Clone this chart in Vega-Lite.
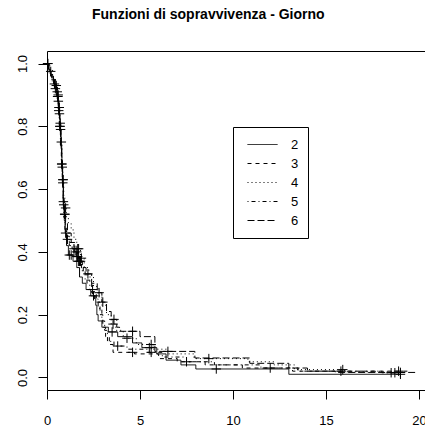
{
  "$schema": "https://vega.github.io/schema/vega-lite/v6.json",
  "autosize": {"type": "none"},
  "padding": {"left": 47, "top": 51, "right": 0, "bottom": 40},
  "width": 378,
  "height": 339,
  "background": "white",
  "title": {"text": "Funzioni di sopravvivenza - Giorno", "anchor": "start", "dx": 76, "offset": 18, "baseline": "alphabetic", "fontSize": 14, "fontWeight": "bold", "font": "Liberation Sans", "color": "black"},
  "datasets": {
    "curves": [
      {"g":"2","t":0,"s":1},{"g":"2","t":0.1,"s":0.98},{"g":"2","t":0.2,"s":0.96},{"g":"2","t":0.35,"s":0.935},{"g":"2","t":0.5,"s":0.91},{"g":"2","t":0.58,"s":0.88},{"g":"2","t":0.64,"s":0.84},{"g":"2","t":0.7,"s":0.79},{"g":"2","t":0.76,"s":0.73},{"g":"2","t":0.8,"s":0.67},{"g":"2","t":0.84,"s":0.61},{"g":"2","t":0.88,"s":0.55},{"g":"2","t":0.93,"s":0.5},{"g":"2","t":0.98,"s":0.46},{"g":"2","t":1.05,"s":0.42},{"g":"2","t":1.15,"s":0.39},{"g":"2","t":1.4,"s":0.37},{"g":"2","t":1.6,"s":0.35},{"g":"2","t":1.75,"s":0.32},{"g":"2","t":1.9,"s":0.3},{"g":"2","t":2.1,"s":0.28},{"g":"2","t":2.35,"s":0.26},{"g":"2","t":2.62,"s":0.23},{"g":"2","t":2.68,"s":0.2},{"g":"2","t":2.75,"s":0.18},{"g":"2","t":2.95,"s":0.16},{"g":"2","t":3.3,"s":0.145},{"g":"2","t":3.8,"s":0.13},{"g":"2","t":4.6,"s":0.11},{"g":"2","t":5.1,"s":0.095},{"g":"2","t":5.9,"s":0.075},{"g":"2","t":6.4,"s":0.055},{"g":"2","t":7.2,"s":0.04},{"g":"2","t":8.0,"s":0.027},{"g":"2","t":13.0,"s":0.01},{"g":"2","t":19.0,"s":0.01},
      {"g":"3","t":0,"s":1},{"g":"3","t":0.12,"s":0.975},{"g":"3","t":0.28,"s":0.95},{"g":"3","t":0.45,"s":0.925},{"g":"3","t":0.55,"s":0.895},{"g":"3","t":0.62,"s":0.86},{"g":"3","t":0.68,"s":0.81},{"g":"3","t":0.74,"s":0.75},{"g":"3","t":0.79,"s":0.69},{"g":"3","t":0.83,"s":0.63},{"g":"3","t":0.87,"s":0.57},{"g":"3","t":0.92,"s":0.52},{"g":"3","t":0.98,"s":0.48},{"g":"3","t":1.06,"s":0.45},{"g":"3","t":1.2,"s":0.43},{"g":"3","t":1.35,"s":0.41},{"g":"3","t":1.55,"s":0.385},{"g":"3","t":1.75,"s":0.36},{"g":"3","t":1.95,"s":0.33},{"g":"3","t":2.15,"s":0.3},{"g":"3","t":2.4,"s":0.27},{"g":"3","t":2.65,"s":0.24},{"g":"3","t":2.85,"s":0.2},{"g":"3","t":3.0,"s":0.16},{"g":"3","t":3.15,"s":0.13},{"g":"3","t":3.35,"s":0.105},{"g":"3","t":3.55,"s":0.08},{"g":"3","t":4.7,"s":0.075},{"g":"3","t":6.0,"s":0.06},{"g":"3","t":7.0,"s":0.05},{"g":"3","t":8.5,"s":0.04},{"g":"3","t":10.5,"s":0.03},{"g":"3","t":13.2,"s":0.02},{"g":"3","t":19.5,"s":0.02},
      {"g":"4","t":0,"s":1},{"g":"4","t":0.15,"s":0.98},{"g":"4","t":0.3,"s":0.955},{"g":"4","t":0.45,"s":0.93},{"g":"4","t":0.56,"s":0.9},{"g":"4","t":0.63,"s":0.86},{"g":"4","t":0.69,"s":0.81},{"g":"4","t":0.75,"s":0.75},{"g":"4","t":0.8,"s":0.69},{"g":"4","t":0.85,"s":0.63},{"g":"4","t":0.9,"s":0.58},{"g":"4","t":0.96,"s":0.54},{"g":"4","t":1.04,"s":0.51},{"g":"4","t":1.15,"s":0.49},{"g":"4","t":1.3,"s":0.47},{"g":"4","t":1.45,"s":0.44},{"g":"4","t":1.6,"s":0.41},{"g":"4","t":1.8,"s":0.38},{"g":"4","t":2.0,"s":0.35},{"g":"4","t":2.25,"s":0.32},{"g":"4","t":2.5,"s":0.29},{"g":"4","t":2.75,"s":0.26},{"g":"4","t":2.95,"s":0.23},{"g":"4","t":3.2,"s":0.2},{"g":"4","t":3.45,"s":0.17},{"g":"4","t":3.7,"s":0.15},{"g":"4","t":4.1,"s":0.125},{"g":"4","t":4.8,"s":0.105},{"g":"4","t":5.7,"s":0.09},{"g":"4","t":6.5,"s":0.075},{"g":"4","t":7.9,"s":0.06},{"g":"4","t":10.8,"s":0.05},{"g":"4","t":12.2,"s":0.04},{"g":"4","t":13.3,"s":0.025},{"g":"4","t":16.0,"s":0.018},{"g":"4","t":18.6,"s":0.015},{"g":"4","t":19.0,"s":0.015},
      {"g":"5","t":0,"s":1},{"g":"5","t":0.1,"s":0.97},{"g":"5","t":0.25,"s":0.945},{"g":"5","t":0.4,"s":0.92},{"g":"5","t":0.52,"s":0.89},{"g":"5","t":0.6,"s":0.85},{"g":"5","t":0.66,"s":0.8},{"g":"5","t":0.72,"s":0.74},{"g":"5","t":0.77,"s":0.68},{"g":"5","t":0.82,"s":0.62},{"g":"5","t":0.86,"s":0.56},{"g":"5","t":0.9,"s":0.51},{"g":"5","t":0.96,"s":0.47},{"g":"5","t":1.05,"s":0.44},{"g":"5","t":1.2,"s":0.42},{"g":"5","t":1.45,"s":0.395},{"g":"5","t":1.65,"s":0.37},{"g":"5","t":1.85,"s":0.34},{"g":"5","t":2.05,"s":0.31},{"g":"5","t":2.3,"s":0.28},{"g":"5","t":2.55,"s":0.25},{"g":"5","t":2.75,"s":0.22},{"g":"5","t":2.95,"s":0.18},{"g":"5","t":3.1,"s":0.15},{"g":"5","t":3.25,"s":0.115},{"g":"5","t":3.6,"s":0.1},{"g":"5","t":4.3,"s":0.09},{"g":"5","t":5.4,"s":0.08},{"g":"5","t":6.2,"s":0.065},{"g":"5","t":7.5,"s":0.05},{"g":"5","t":9.0,"s":0.04},{"g":"5","t":11.5,"s":0.03},{"g":"5","t":13.5,"s":0.02},{"g":"5","t":18.0,"s":0.015},{"g":"5","t":18.8,"s":0.015},
      {"g":"6","t":0,"s":1},{"g":"6","t":0.08,"s":0.975},{"g":"6","t":0.22,"s":0.95},{"g":"6","t":0.4,"s":0.925},{"g":"6","t":0.53,"s":0.895},{"g":"6","t":0.61,"s":0.855},{"g":"6","t":0.67,"s":0.8},{"g":"6","t":0.73,"s":0.74},{"g":"6","t":0.78,"s":0.68},{"g":"6","t":0.83,"s":0.62},{"g":"6","t":0.88,"s":0.56},{"g":"6","t":0.93,"s":0.52},{"g":"6","t":1.0,"s":0.49},{"g":"6","t":1.1,"s":0.46},{"g":"6","t":1.3,"s":0.43},{"g":"6","t":1.5,"s":0.4},{"g":"6","t":1.7,"s":0.37},{"g":"6","t":1.9,"s":0.35},{"g":"6","t":2.1,"s":0.33},{"g":"6","t":2.4,"s":0.3},{"g":"6","t":2.7,"s":0.27},{"g":"6","t":2.95,"s":0.24},{"g":"6","t":3.2,"s":0.21},{"g":"6","t":3.45,"s":0.185},{"g":"6","t":3.75,"s":0.16},{"g":"6","t":3.9,"s":0.147},{"g":"6","t":5.0,"s":0.13},{"g":"6","t":5.8,"s":0.083},{"g":"6","t":7.95,"s":0.062},{"g":"6","t":10.9,"s":0.045},{"g":"6","t":13.0,"s":0.03},{"g":"6","t":14.0,"s":0.02},{"g":"6","t":15.5,"s":0.016},{"g":"6","t":19.9,"s":0.016}
    ],
    "censor": [
      {"g":"2","t":0.05,"s":1},{"g":"2","t":0.4,"s":0.935},{"g":"2","t":0.55,"s":0.91},{"g":"2","t":0.61,"s":0.88},{"g":"2","t":0.67,"s":0.84},{"g":"2","t":0.73,"s":0.79},{"g":"2","t":0.82,"s":0.67},{"g":"2","t":0.9,"s":0.55},{"g":"2","t":1.0,"s":0.46},{"g":"2","t":1.2,"s":0.39},{"g":"2","t":1.3,"s":0.39},{"g":"2","t":2.5,"s":0.26},{"g":"2","t":3.5,"s":0.145},{"g":"2","t":5.5,"s":0.095},{"g":"2","t":9.1,"s":0.027},{"g":"2","t":19.0,"s":0.01},
      {"g":"3","t":0.2,"s":0.975},{"g":"3","t":0.58,"s":0.895},{"g":"3","t":0.65,"s":0.86},{"g":"3","t":0.71,"s":0.81},{"g":"3","t":0.85,"s":0.63},{"g":"3","t":0.95,"s":0.52},{"g":"3","t":1.45,"s":0.41},{"g":"3","t":1.6,"s":0.385},{"g":"3","t":1.65,"s":0.385},{"g":"3","t":4.6,"s":0.08},{"g":"3","t":7.5,"s":0.05},{"g":"3","t":15.8,"s":0.02},{"g":"3","t":18.9,"s":0.02},
      {"g":"4","t":0.5,"s":0.93},{"g":"4","t":0.6,"s":0.9},{"g":"4","t":0.66,"s":0.86},{"g":"4","t":0.77,"s":0.75},{"g":"4","t":0.87,"s":0.63},{"g":"4","t":1.0,"s":0.54},{"g":"4","t":1.65,"s":0.41},{"g":"4","t":1.7,"s":0.41},{"g":"4","t":1.85,"s":0.38},{"g":"4","t":3.55,"s":0.17},{"g":"4","t":4.3,"s":0.125},{"g":"4","t":5.6,"s":0.105},{"g":"4","t":8.7,"s":0.06},{"g":"4","t":15.9,"s":0.025},{"g":"4","t":18.7,"s":0.015},
      {"g":"5","t":0.45,"s":0.92},{"g":"5","t":0.63,"s":0.85},{"g":"5","t":0.69,"s":0.8},{"g":"5","t":0.79,"s":0.68},{"g":"5","t":0.88,"s":0.56},{"g":"5","t":1.1,"s":0.44},{"g":"5","t":1.7,"s":0.37},{"g":"5","t":1.8,"s":0.37},{"g":"5","t":2.45,"s":0.28},{"g":"5","t":3.8,"s":0.1},{"g":"5","t":5.6,"s":0.08},{"g":"5","t":12.0,"s":0.03},{"g":"5","t":18.5,"s":0.015},
      {"g":"6","t":0.03,"s":1},{"g":"6","t":0.57,"s":0.895},{"g":"6","t":0.7,"s":0.8},{"g":"6","t":0.8,"s":0.68},{"g":"6","t":0.85,"s":0.62},{"g":"6","t":0.96,"s":0.52},{"g":"6","t":1.6,"s":0.4},{"g":"6","t":1.75,"s":0.37},{"g":"6","t":2.2,"s":0.33},{"g":"6","t":2.8,"s":0.27},{"g":"6","t":3.0,"s":0.24},{"g":"6","t":3.6,"s":0.185},{"g":"6","t":4.6,"s":0.147},{"g":"6","t":6.5,"s":0.083},{"g":"6","t":19.0,"s":0.016}
    ]
  },
  "layer": [
    {
      "data": {"name": "curves"},
      "mark": {"type": "line", "interpolate": "step-after", "color": "black", "strokeWidth": 1},
      "encoding": {
        "x": {"field": "t", "type": "quantitative", "scale": {"domain": [0, 20.32], "nice": false, "zero": false},
              "axis": {"orient": "bottom", "values": [0, 5, 10, 15, 20], "title": null, "tickSize": 9, "labelPadding": 15, "labelFlush": false, "grid": false}},
        "y": {"field": "s", "type": "quantitative", "scale": {"domain": [-0.04, 1.04], "nice": false, "zero": false},
              "axis": {"values": [0, 0.2, 0.4, 0.6, 0.8, 1.0], "format": ".1f", "title": null, "tickSize": 9, "labelAngle": 270, "labelAlign": "center", "labelBaseline": "bottom", "labelPadding": 9, "labelFlush": false, "grid": false}},
        "strokeDash": {"field": "g", "type": "nominal",
              "scale": {"domain": ["2", "3", "4", "5", "6"], "range": [[1, 0], [4, 4], [1, 3], [1, 3, 4, 3], [7, 3]]},
              "legend": {"orient": "none", "legendX": 186, "legendY": 76, "title": null, "symbolType": "stroke", "symbolSize": 900, "symbolStrokeWidth": 1, "symbolStrokeColor": "black", "symbolOffset": 5, "labelOffset": 13, "padding": 9, "strokeColor": "black", "fillColor": "white", "cornerRadius": 0, "clipHeight": 17, "rowPadding": 2, "labelFont": "Liberation Sans", "labelFontSize": 13, "labelColor": "black"}}
      }
    },
    {
      "data": {"name": "censor"},
      "mark": {"type": "point", "shape": "M-1,0L1,0M0,-1L0,1", "filled": false, "stroke": "black", "strokeWidth": 1, "size": 90, "opacity": 1},
      "encoding": {
        "x": {"field": "t", "type": "quantitative", "scale": {"domain": [0, 20.32], "nice": false, "zero": false},
              "axis": {"orient": "top", "labels": false, "ticks": false, "domain": true, "title": null, "grid": false}},
        "y": {"field": "s", "type": "quantitative", "scale": {"domain": [-0.04, 1.04], "nice": false, "zero": false}}
      }
    }
  ],
  "resolve": {"axis": {"x": "independent"}},
  "config": {
    "view": {"stroke": null},
    "axis": {"domainColor": "black", "tickColor": "black", "labelColor": "black", "domainWidth": 1, "tickWidth": 1, "labelFont": "Liberation Sans", "labelFontSize": 13, "grid": false}
  }
}
